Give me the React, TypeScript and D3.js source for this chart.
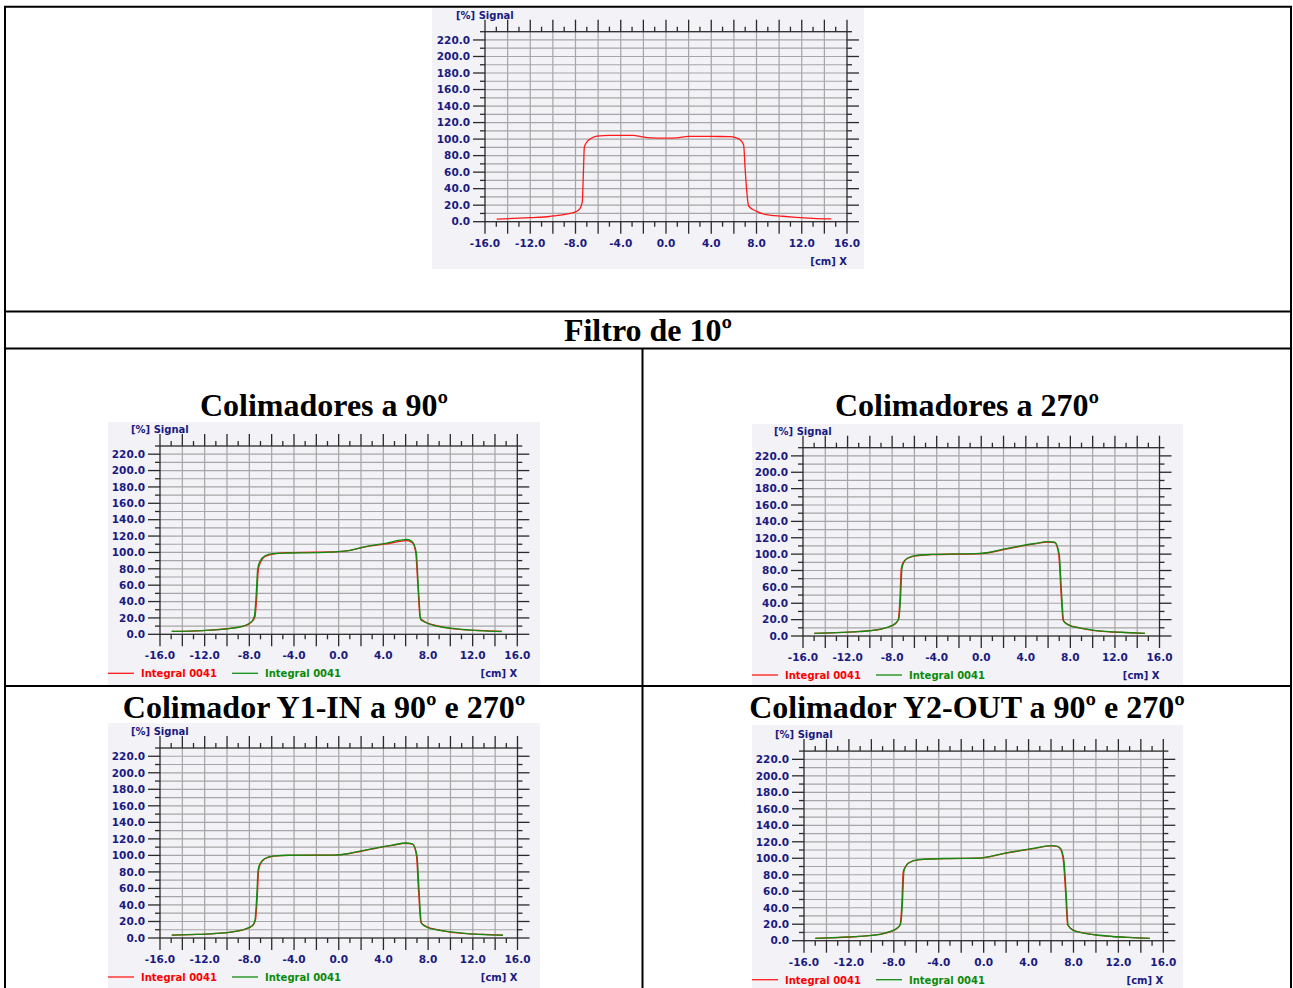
import React from 'react';
import * as d3 from 'd3';

// Axis ticks shared by every profile plot
const X_LABEL_TICKS = [-16, -12, -8, -4, 0, 4, 8, 12, 16];
const Y_LABEL_TICKS = [0, 20, 40, 60, 80, 100, 120, 140, 160, 180, 200, 220];
const X_DOMAIN: [number, number] = [-16, 16];
const Y_DOMAIN: [number, number] = [0, 230];

const LEGEND_LABELS = ['Integral 0041', 'Integral 0041'];

// Profile without collimator rotation (single measurement)
const profileTop: [number, number][] = [
  [-14.97, 3.2], [-13.5, 4.0], [-12.0, 5.0], [-10.3, 6.3], [-9.9, 7.0], [-8.8, 9.3], [-7.9, 12.5],
  [-7.6, 16.2], [-7.4, 24], [-7.3, 60], [-7.22, 90], [-7.07, 95], [-6.6, 101], [-6.12, 103.6],
  [-5.0, 104.5], [-2.9, 104.4], [-2.2, 103], [-1.41, 101.5], [0, 101.2], [0.95, 101.5], [1.98, 103.4],
  [4.0, 103.2], [5.69, 103], [6.2, 101.5], [6.57, 99], [6.86, 93], [7.0, 63], [7.15, 35], [7.3, 19],
  [8.02, 12.5], [8.86, 8.5], [10.3, 6.6], [11.5, 5.3], [13.0, 4.1], [14.6, 3.3],
];

// Collimators at 90 degrees
const col90Red: [number, number][] = [
  [-14.95, 3.5], [-13, 4.0], [-11.5, 5.0], [-10, 6.8], [-9, 8.5], [-8.5, 10], [-7.8, 15], [-7.5, 21],
  [-7.35, 42], [-7.2, 78], [-7.0, 88], [-6.6, 95], [-5.9, 98], [-4.7, 99.7], [-2, 100.2], [-0.8, 100.5],
  [0.7, 102], [2.5, 107], [4.3, 110.5], [5.5, 113.5], [6.1, 114.5], [6.6, 112], [6.9, 100], [7.1, 58],
  [7.3, 20], [7.7, 15.5], [8.5, 11.4], [10, 7.3], [11.5, 5.3], [13, 4.4], [14.6, 3.5],
];
const col90Green: [number, number][] = [
  [-14.95, 3.5], [-13, 4.2], [-11.5, 5.2], [-10, 6.6], [-9, 8.6], [-8.5, 10.2], [-7.8, 15.5], [-7.55, 22],
  [-7.4, 45], [-7.25, 80], [-7.05, 89], [-6.6, 96], [-5.9, 98.5], [-4.7, 99.3], [-2, 99.8], [-0.8, 100.3],
  [0.7, 101.8], [2.5, 107.5], [4.3, 111.5], [5.5, 115], [6.1, 115.8], [6.6, 113], [6.95, 100], [7.15, 55],
  [7.35, 18], [7.7, 15], [8.5, 11], [10, 7.5], [11.5, 5.5], [13, 4.2], [14.6, 3.4],
];

// Collimators at 270 degrees
const col270Red: [number, number][] = [
  [-15.0, 3.2], [-13, 4.0], [-11.5, 5.0], [-10, 6.5], [-9, 8.3], [-8.3, 11], [-7.7, 15], [-7.45, 20],
  [-7.3, 45], [-7.18, 82], [-7.0, 90], [-6.6, 95], [-5.8, 98], [-4.5, 99.5], [-2, 100], [-0.5, 100.3],
  [0.8, 102], [2.0, 105.5], [3.5, 109.5], [4.8, 112.5], [6.0, 114.8], [6.6, 114], [6.95, 100], [7.15, 55],
  [7.35, 19], [7.9, 13.5], [8.8, 10], [10, 7], [11.5, 5.2], [13, 4.2], [14.7, 3.2],
];
const col270Green: [number, number][] = [
  [-15.0, 3.2], [-13, 4.1], [-11.5, 5.1], [-10, 6.4], [-9, 8.4], [-8.3, 11.2], [-7.7, 15.5], [-7.4, 21],
  [-7.25, 45], [-7.12, 82], [-6.95, 90], [-6.55, 95.5], [-5.8, 98.5], [-4.5, 99.6], [-2, 100.2], [-0.5, 100.5],
  [0.8, 102.3], [2.0, 106], [3.5, 110], [4.8, 113], [6.0, 115.3], [6.6, 114.5], [7.0, 100], [7.2, 55],
  [7.4, 18], [7.9, 13], [8.8, 9.8], [10, 7.2], [11.5, 5.3], [13, 4.3], [14.7, 3.3],
];

// Collimator Y1-IN at 90 and 270 degrees
const y1InRed: [number, number][] = [
  [-14.95, 3.5], [-13, 4.2], [-11.5, 5.0], [-10, 6.5], [-9, 8.5], [-8.3, 11], [-7.7, 15], [-7.45, 22],
  [-7.3, 48], [-7.17, 82], [-7.0, 90], [-6.6, 96], [-5.8, 99], [-4.5, 100], [-2, 100.2], [-0.5, 100.3],
  [0.8, 101.8], [2.0, 105], [3.5, 109], [4.8, 112], [6.0, 114.5], [6.6, 113.5], [6.95, 100], [7.15, 55],
  [7.35, 19], [7.9, 13.5], [8.8, 10], [10, 7.2], [11.5, 5.3], [13, 4.3], [14.7, 3.4],
];
const y1InGreen: [number, number][] = [
  [-14.95, 3.5], [-13, 4.3], [-11.5, 5.1], [-10, 6.6], [-9, 8.6], [-8.3, 11.2], [-7.7, 15.5], [-7.5, 22],
  [-7.35, 48], [-7.22, 82], [-7.05, 90], [-6.65, 96], [-5.8, 99.3], [-4.5, 100.2], [-2, 100.3], [-0.5, 100.4],
  [0.8, 102], [2.0, 105.5], [3.5, 109.5], [4.8, 112.5], [6.0, 115], [6.6, 114], [7.0, 100], [7.2, 55],
  [7.4, 18], [7.9, 13], [8.8, 9.8], [10, 7.4], [11.5, 5.4], [13, 4.2], [14.7, 3.3],
];

// Collimator Y2-OUT at 90 and 270 degrees
const y2OutRed: [number, number][] = [
  [-15.0, 2.9], [-13, 3.8], [-11.5, 4.8], [-9.97, 6.5], [-9, 8.3], [-8.3, 11], [-7.7, 15], [-7.45, 19],
  [-7.3, 41], [-7.16, 84], [-6.95, 90], [-6.71, 94], [-5.82, 98], [-3.44, 99.5], [-0.48, 100], [0.6, 102],
  [1.9, 106], [3.2, 109], [4.57, 112], [6.06, 115], [6.5, 114.5], [6.8, 112], [7.09, 98], [7.3, 57.5],
  [7.48, 19], [7.98, 13], [8.9, 9.5], [9.9, 7], [11.5, 5], [12.88, 4.1], [14.8, 2.9],
];
const y2OutGreen: [number, number][] = [
  [-15.0, 2.9], [-13, 3.9], [-11.5, 4.9], [-9.97, 6.4], [-9, 8.4], [-8.3, 11.2], [-7.7, 15.5], [-7.4, 20],
  [-7.25, 41], [-7.1, 84], [-6.9, 91], [-6.66, 94.5], [-5.82, 98.3], [-3.44, 99.7], [-0.48, 100], [0.6, 102.2],
  [1.9, 106.3], [3.2, 109.3], [4.57, 112.4], [6.06, 115.3], [6.5, 114.8], [6.85, 112], [7.14, 98], [7.35, 57.5],
  [7.52, 19], [7.98, 12.5], [8.9, 9.3], [9.9, 7.2], [11.5, 5.1], [12.88, 4.0], [14.8, 2.9],
];

const RED = '#ff1a1a';
const GREEN = '#118c11';
const NAVY = '#1a1a80';
const AXIS = '#2a2a2a';
const GRID = '#a6a6a6';
const PANEL_BG = '#f2f2f7';
const LABEL_FONT = '"DejaVu Sans", Verdana, sans-serif';
const TITLE_FONT = '"Liberation Serif", "Times New Roman", serif';

type Box = { bx: number; by: number; bw: number; bh: number; L: number; R: number; T: number; B: number };
type Series = { data: [number, number][]; color: string };

const range = (a: number, b: number, step: number) => d3.range(a, b + step / 2, step);

function ProfilePlot({ box, series, legend }: { box: Box; series: Series[]; legend: boolean }) {
  const { bx, by, bw, bh, L, R, T, B } = box;
  const x = d3.scaleLinear().domain(X_DOMAIN).range([L, R]);
  const y = d3.scaleLinear().domain(Y_DOMAIN).range([B, T]);
  const line = d3
    .line<[number, number]>()
    .x((d) => x(d[0]))
    .y((d) => y(d[1]))
    .curve(d3.curveMonotoneX);

  const xGrid = range(-14, 14, 2);
  const yGrid = range(10, 220, 10);
  const xTicks = range(-16, 16, 1);
  const yTicks = range(0, 230, 10);
  const clipId = `clip-${Math.round(bx)}-${Math.round(by)}`;

  return (
    <g>
      <rect x={bx} y={by} width={bw} height={bh} fill={PANEL_BG} />
      <defs>
        <clipPath id={clipId}>
          <rect x={L} y={T} width={R - L} height={B - T} />
        </clipPath>
      </defs>
      {/* grid */}
      {xGrid.map((v) => (
        <line key={`gx${v}`} x1={x(v)} x2={x(v)} y1={T} y2={B} stroke={GRID} strokeWidth={1.2} />
      ))}
      {yGrid.map((v) => (
        <line key={`gy${v}`} x1={L} x2={R} y1={y(v)} y2={y(v)} stroke={GRID} strokeWidth={1.2} />
      ))}
      {/* frame */}
      <rect x={L} y={T} width={R - L} height={B - T} fill="none" stroke={AXIS} strokeWidth={1.3} />
      {/* x ticks top and bottom */}
      {xTicks.map((v) => {
        const len = Math.abs(v) % 2 === 0 ? 12 : 5;
        return (
          <g key={`tx${v}`}>
            <line x1={x(v)} x2={x(v)} y1={B} y2={B + len} stroke={AXIS} strokeWidth={1.3} />
            <line x1={x(v)} x2={x(v)} y1={T} y2={T - len} stroke={AXIS} strokeWidth={1.3} />
          </g>
        );
      })}
      {/* y ticks left and right */}
      {yTicks.map((v) => {
        const len = v % 20 === 0 ? 12 : 5;
        return (
          <g key={`ty${v}`}>
            <line x1={L - len} x2={L} y1={y(v)} y2={y(v)} stroke={AXIS} strokeWidth={1.3} />
            <line x1={R} x2={R + len} y1={y(v)} y2={y(v)} stroke={AXIS} strokeWidth={1.3} />
          </g>
        );
      })}
      {/* tick labels */}
      {Y_LABEL_TICKS.map((v) => (
        <text
          key={`ly${v}`}
          x={L - 15}
          y={y(v)}
          dy="0.36em"
          textAnchor="end"
          fontFamily={LABEL_FONT}
          fontWeight="bold"
          fontSize={10.5}
          fill={NAVY}
        >
          {v.toFixed(1)}
        </text>
      ))}
      {X_LABEL_TICKS.map((v) => (
        <text
          key={`lx${v}`}
          x={x(v)}
          y={B + 25}
          textAnchor="middle"
          fontFamily={LABEL_FONT}
          fontWeight="bold"
          fontSize={10.5}
          fill={NAVY}
        >
          {v.toFixed(1)}
        </text>
      ))}
      <text x={L - 29} y={T - 13} fontFamily={LABEL_FONT} fontWeight="bold" fontSize={10} fill={NAVY}>
        [%] Signal
      </text>
      <text x={R} y={B + 43} textAnchor="end" fontFamily={LABEL_FONT} fontWeight="bold" fontSize={10} fill={NAVY}>
        [cm] X
      </text>
      {/* profiles */}
      <g clipPath={`url(#${clipId})`}>
        {series.map((s, i) => (
          <path key={i} d={line(s.data) || ''} fill="none" stroke={s.color} strokeWidth={1.3} strokeLinejoin="round" />
        ))}
      </g>
      {legend &&
        series.map((s, i) => {
          const off = i * 124;
          return (
            <g key={`lg${i}`}>
              <line x1={bx + off} x2={bx + off + 26} y1={B + 39} y2={B + 39} stroke={s.color} strokeWidth={1.3} />
              <text
                x={bx + off + 33}
                y={B + 43}
                fontFamily={LABEL_FONT}
                fontWeight="bold"
                fontSize={10}
                fill={s.color === RED ? '#ff0000' : '#0a8a0a'}
              >
                {LEGEND_LABELS[i]}
              </text>
            </g>
          );
        })}
    </g>
  );
}

const TITLES = [
  { text: 'Filtro de 10º', x: 648, y: 341 },
  { text: 'Colimadores a 90º', x: 324, y: 416 },
  { text: 'Colimadores a 270º', x: 967, y: 416 },
  { text: 'Colimador Y1-IN a 90º e 270º', x: 324, y: 718 },
  { text: 'Colimador Y2-OUT a 90º e 270º', x: 967, y: 718 },
];

export default function App() {
  const W = 1293;
  const H = 988;
  return (
    <div style={{ position: 'absolute', left: 0, top: 0, width: W, height: H, overflow: 'hidden', background: '#fff' }}>
      <svg width={W} height={H} viewBox={`0 0 ${W} ${H}`} style={{ display: 'block' }}>
        <rect x={0} y={0} width={W} height={H} fill="#ffffff" />
        <ProfilePlot
          box={{ bx: 432, by: 8, bw: 432, bh: 261, L: 485, R: 847, T: 31.7, B: 221.7 }}
          series={[{ data: profileTop, color: RED }]}
          legend={false}
        />
        <ProfilePlot
          box={{ bx: 108, by: 422, bw: 432, bh: 264, L: 160, R: 517.3, T: 446, B: 634.3 }}
          series={[
            { data: col90Red, color: RED },
            { data: col90Green, color: GREEN },
          ]}
          legend
        />
        <ProfilePlot
          box={{ bx: 752, by: 424, bw: 431, bh: 262, L: 803, R: 1159.5, T: 447.7, B: 636 }}
          series={[
            { data: col270Red, color: RED },
            { data: col270Green, color: GREEN },
          ]}
          legend
        />
        <ProfilePlot
          box={{ bx: 108, by: 723, bw: 432, bh: 265, L: 160, R: 517.5, T: 748, B: 938 }}
          series={[
            { data: y1InRed, color: RED },
            { data: y1InGreen, color: GREEN },
          ]}
          legend
        />
        <ProfilePlot
          box={{ bx: 752, by: 725, bw: 431, bh: 263, L: 804, R: 1163.3, T: 751.1, B: 940.7 }}
          series={[
            { data: y2OutRed, color: RED },
            { data: y2OutGreen, color: GREEN },
          ]}
          legend
        />
        {/* table rules */}
        <g stroke="#000" strokeWidth={2} fill="none">
          <line x1={4} x2={1292} y1={6.7} y2={6.7} />
          <line x1={5} x2={5} y1={6} y2={H} />
          <line x1={1291} x2={1291} y1={6} y2={H} />
          <line x1={5} x2={1291} y1={311.5} y2={311.5} />
          <line x1={5} x2={1291} y1={348.5} y2={348.5} />
          <line x1={5} x2={1291} y1={686} y2={686} />
          <line x1={642.5} x2={642.5} y1={348.5} y2={H} />
        </g>
        {TITLES.map((t) => (
          <text
            key={t.text}
            x={t.x}
            y={t.y}
            textAnchor="middle"
            fontFamily={TITLE_FONT}
            fontWeight="bold"
            fontSize={32}
            fill="#000"
          >
            {t.text}
          </text>
        ))}
      </svg>
    </div>
  );
}
